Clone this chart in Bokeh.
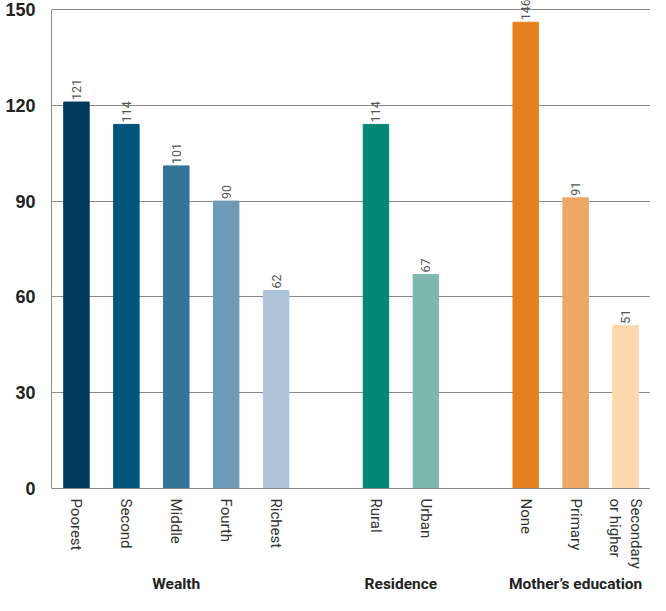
import math
from bokeh.plotting import figure
from bokeh.models import ColumnDataSource, LabelSet, LinearAxis, FixedTicker, Range1d
from bokeh.core.properties import value
from bokeh.embed import file_html
from bokeh.resources import INLINE

categories = ["Poorest", "Second", "Middle", "Fourth", "Richest",
              "Rural", "Urban",
              "None", "Primary", "Secondary\nor higher"]
values = [121, 114, 101, 90, 62, 114, 67, 146, 91, 51]
colors = ["#003A5D", "#00557A", "#337597", "#6E9AB8", "#AEC4D9",
          "#008675", "#7DB8AD",
          "#E6801E", "#EEA765", "#FDD8AC"]
groups = ["Wealth", "Residence", "Mother\u2019s education"]
group_sizes = [5, 2, 3]
y_ticks = [0, 30, 60, 90, 120, 150]

# slot positions: one empty slot between groups
slots = []
group_centers = []
pos = 0
for n in group_sizes:
    grp = list(range(pos, pos + n))
    slots.extend(grp)
    group_centers.append(sum(grp) / n)
    pos += n + 1

NARROW = "Roboto"

src = ColumnDataSource(dict(x=slots, top=values, color=colors,
                            label=[str(v) for v in values]))

# a little head-room above 150 so the value label of the tallest bar is not clipped
p = figure(width=650, height=595, output_backend="svg", toolbar_location=None,
           x_range=Range1d(-0.5, slots[-1] + 0.5), y_range=Range1d(0, 152.8),
           min_border_left=51, min_border_right=0, min_border_top=0,
           min_border_bottom=0)
p.outline_line_color = None
p.background_fill_color = "white"

p.vbar(x="x", top="top", width=0.51, bottom=0, color="color", source=src)

labels = LabelSet(x="x", y="top", text="label", source=src, angle=math.pi / 2,
                  y_offset=2, text_align="left", text_baseline="middle",
                  text_font=value(NARROW), text_font_size="12.5px",
                  text_color="#555555")
p.add_layout(labels)

# y axis
p.yaxis.ticker = FixedTicker(ticks=y_ticks)
p.yaxis.bounds = (y_ticks[0], y_ticks[-1])
p.yaxis.major_tick_line_color = None
p.yaxis.minor_tick_line_color = None
p.yaxis.axis_line_color = "#8a8a8a"
p.yaxis.major_label_text_font = "Liberation Sans"
p.yaxis.major_label_text_font_style = "bold"
p.yaxis.major_label_text_font_size = "18px"
p.yaxis.major_label_text_color = "#222222"
p.yaxis.major_label_standoff = 10

p.ygrid.ticker = FixedTicker(ticks=y_ticks)
p.ygrid.grid_line_color = "#8a8a8a"
p.xgrid.grid_line_color = None

# category axis
xa = p.xaxis[0]
xa.ticker = FixedTicker(ticks=slots)
xa.major_label_overrides = {s: c for s, c in zip(slots, categories)}
xa.major_label_orientation = "vertical"
xa.major_tick_line_color = None
xa.minor_tick_line_color = None
xa.major_tick_out = 0
xa.major_tick_in = 0
xa.axis_line_color = "#8a8a8a"
xa.major_label_text_font = NARROW
xa.major_label_text_font_size = "15px"
xa.major_label_text_color = "#333333"
xa.major_label_standoff = 10

# group axis
ga = LinearAxis(ticker=FixedTicker(ticks=group_centers),
                major_label_overrides={c: g for c, g in zip(group_centers, groups)})
ga.axis_line_color = None
ga.major_tick_line_color = None
ga.minor_tick_line_color = None
ga.major_tick_out = 0
ga.major_tick_in = 0
ga.major_label_text_font = NARROW
ga.major_label_text_font_style = "bold"
ga.major_label_text_font_size = "15.5px"
ga.major_label_text_color = "#222222"
ga.major_label_standoff = 3
p.add_layout(ga, "below")

open("out.html", "w").write(file_html(p, INLINE))
